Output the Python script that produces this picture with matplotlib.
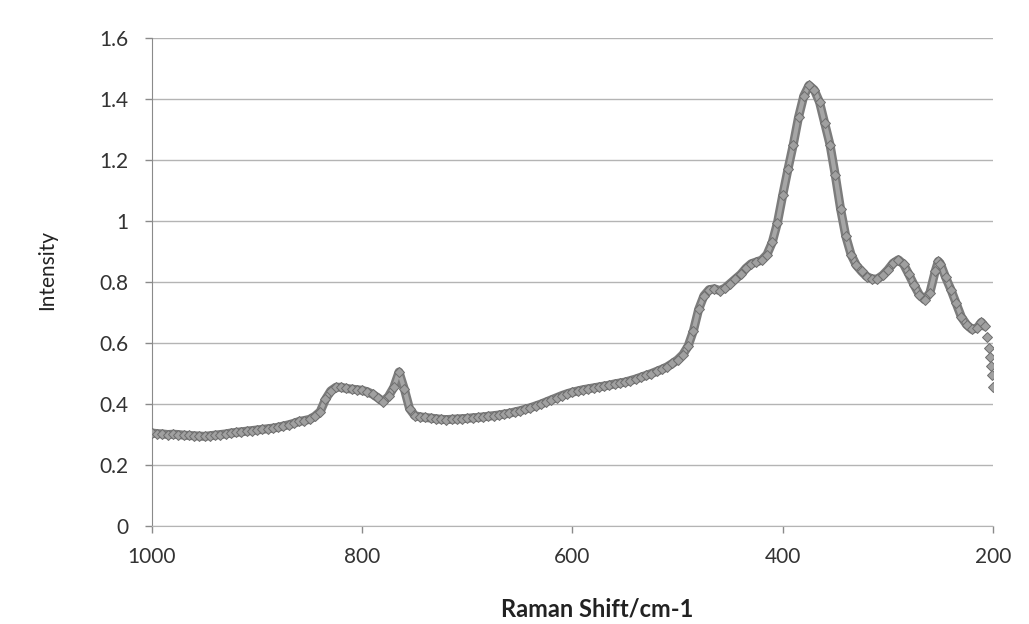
import matplotlib
matplotlib.use("Agg")
import matplotlib.pyplot as plt

# Raman spectrum
shift = [1000, 995, 990, 985, 980, 975, 970, 965, 960, 955, 950, 945, 940, 935,
         930, 925, 920, 915, 910, 905, 900, 895, 890, 885, 880, 875, 870, 865,
         860, 855, 850, 845, 840, 835, 830, 825, 820, 815, 810, 805, 800, 795,
         790, 785, 780, 775, 770, 765, 760, 755, 750, 745, 740, 735, 730, 725,
         720, 715, 710, 705, 700, 695, 690, 685, 680, 675, 670, 665, 660, 655,
         650, 645, 640, 635, 630, 625, 620, 615, 610, 605, 600, 595, 590, 585,
         580, 575, 570, 565, 560, 555, 550, 545, 540, 535, 530, 525, 520, 515,
         510, 505, 500, 495, 490, 485, 480, 475, 470, 465, 460, 455, 450, 445,
         440, 435, 430, 425, 420, 415, 410, 405, 400, 395, 390, 385, 380, 375,
         370, 365, 360, 355, 350, 345, 340, 335, 330, 325, 320, 315, 310, 305,
         300, 295, 290, 285, 280, 275, 270, 265, 260, 255, 252, 250, 245, 240,
         235, 230, 225, 220, 215, 211, 208, 206, 204, 203, 202, 201, 200]
intensity = [0.305, 0.303, 0.302, 0.300, 0.301, 0.300, 0.298, 0.297, 0.296,
             0.295, 0.294, 0.296, 0.298, 0.300, 0.302, 0.305, 0.307, 0.309,
             0.311, 0.313, 0.315, 0.317, 0.319, 0.321, 0.324, 0.328, 0.332,
             0.337, 0.343, 0.346, 0.350, 0.360, 0.375, 0.415, 0.443, 0.455,
             0.455, 0.451, 0.449, 0.447, 0.445, 0.440, 0.432, 0.420, 0.408,
             0.425, 0.455, 0.505, 0.450, 0.385, 0.362, 0.358, 0.356, 0.354,
             0.352, 0.350, 0.349, 0.350, 0.351, 0.352, 0.353, 0.355, 0.356,
             0.358, 0.360, 0.362, 0.364, 0.367, 0.370, 0.374, 0.378, 0.383,
             0.388, 0.394, 0.400, 0.407, 0.414, 0.421, 0.428, 0.434, 0.439,
             0.443, 0.447, 0.450, 0.453, 0.456, 0.459, 0.462, 0.466, 0.469,
             0.472, 0.477, 0.482, 0.488, 0.494, 0.500, 0.507, 0.514, 0.522,
             0.533, 0.545, 0.562, 0.590, 0.640, 0.710, 0.755, 0.775, 0.778,
             0.772, 0.780, 0.795, 0.810, 0.825, 0.845, 0.860, 0.866, 0.872,
             0.890, 0.930, 0.995, 1.085, 1.170, 1.250, 1.340, 1.410, 1.445,
             1.430, 1.390, 1.320, 1.250, 1.150, 1.040, 0.950, 0.890, 0.855,
             0.835, 0.818, 0.810, 0.810, 0.822, 0.840, 0.862, 0.873, 0.858,
             0.825, 0.790, 0.758, 0.742, 0.765, 0.835, 0.868, 0.860, 0.815,
             0.775, 0.730, 0.685, 0.660, 0.645, 0.650, 0.668, 0.655, 0.620,
             0.585, 0.555, 0.525, 0.495, 0.455]

x_ticks = [1000, 800, 600, 400, 200]
y_ticks = [0, 0.2, 0.4, 0.6, 0.8, 1, 1.2, 1.4, 1.6]

plt.rcParams['font.family'] = ['Lato', 'DejaVu Sans']

fig = plt.figure(figsize=(10.29, 6.24), dpi=100)
ax = fig.add_axes([0.1477, 0.157, 0.8173, 0.782])

# the scanned series is a dense chain of diamonds; draw it as a band
ax.plot(shift[:-6], intensity[:-6], color='#7c7c7c', linewidth=6.5,
        solid_capstyle='round', solid_joinstyle='round', zorder=3)
ax.plot(shift[:-6], intensity[:-6], color='#a6a6a6', linewidth=3,
        solid_capstyle='round', solid_joinstyle='round', zorder=4)
ax.plot(shift, intensity, linestyle='none', marker='D', markersize=5,
        markerfacecolor='#a0a0a0', markeredgecolor='#6e6e6e',
        markeredgewidth=0.7, zorder=5)

ax.set_xlim(1000, 200)
ax.set_ylim(0, 1.6)
ax.set_xticks(x_ticks)
ax.set_yticks(y_ticks)
ax.set_yticklabels(['0', '0.2', '0.4', '0.6', '0.8', '1', '1.2', '1.4', '1.6'])

ax.yaxis.grid(True, color='#b4b4b4', linewidth=1)
ax.set_axisbelow(True)
for side in ['top', 'right']:
    ax.spines[side].set_visible(False)
ax.spines['left'].set_color('#8a8a8a')
ax.spines['bottom'].set_color('#b4b4b4')
ax.tick_params(axis='both', colors='#8a8a8a', labelcolor='#333333',
               labelsize=15, length=5, width=1)
ax.tick_params(axis='y', pad=12)
ax.tick_params(axis='x', pad=10)

ax.set_xlabel('Raman Shift/cm-1', fontsize=17, fontweight='bold',
              color='#222222')
ax.set_ylabel('Intensity', fontsize=15, color='#222222')
ax.xaxis.set_label_coords(0.529, -0.146)
ax.yaxis.set_label_coords(-0.113, 0.525)

fig.savefig('out.png', dpi=100)
